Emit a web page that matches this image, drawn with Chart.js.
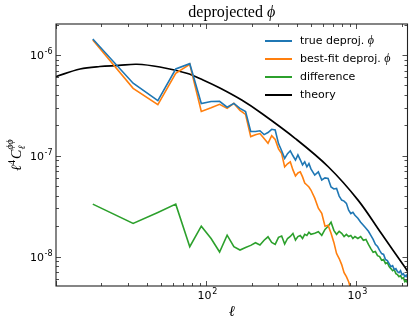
<!DOCTYPE html>
<html>
<head>
<meta charset="utf-8">
<script src="https://cdn.jsdelivr.net/npm/chart.js@4.4.0/dist/chart.umd.min.js"></script>
<style>
  html, body { margin: 0; padding: 0; background: #fff; }
  #wrap { width: 415px; height: 326px; }
</style>
</head>
<body>
<div id="wrap"><canvas id="chart" width="415" height="326"></canvas></div>
<script>
// ===== data =====

// multipole bin centres shared by the three measured spectra
const ell = [
  17.5, 32.5, 47.5, 62.5, 77.5, 92.5, 107.5, 122.5, 137.5, 152.5,
  167.5, 182.5, 197.5, 212.5, 227.5, 242.5, 257.5, 272.5, 287.5, 302.5,
  317.5, 332.5, 347.5, 362.5, 377.5, 392.5, 407.5, 422.5, 437.5, 452.5,
  467.5, 482.5, 497.5,
  527.5, 557.5, 587.5, 617.5, 647.5, 677.5, 707.5, 737.5, 767.5, 797.5,
  827.5, 857.5, 887.5, 917.5, 947.5, 977.5,
  1022.5, 1067.5, 1112.5, 1157.5, 1202.5, 1247.5, 1292.5, 1337.5, 1382.5,
  1427.5, 1472.5, 1517.5, 1562.5, 1607.5, 1652.5, 1697.5, 1742.5, 1787.5,
  1832.5, 1877.5, 1922.5, 1967.5, 2012.5, 2057.5, 2102.5, 2147.5, 2192.5
];

const trueDeproj = [
  1.44e-6, 5.24e-7, 3.52e-7, 7.26e-7, 8.20e-7, 3.30e-7, 3.45e-7, 3.47e-7, 3.03e-7, 3.31e-7,
  2.95e-7, 2.74e-7, 1.74e-7, 1.74e-7, 1.77e-7, 1.62e-7, 1.70e-7, 1.83e-7, 1.80e-7, 1.32e-7,
  1.12e-7, 9.42e-8, 1.05e-7, 1.12e-7, 1.00e-7, 9.06e-8, 1.02e-7, 9.12e-8, 8.13e-8, 8.71e-8,
  7.76e-8, 8.38e-8, 7.41e-8,
  6.43e-8, 6.92e-8, 5.75e-8, 6.03e-8, 5.96e-8, 4.90e-8, 4.68e-8, 4.73e-8, 3.98e-8, 3.63e-8,
  3.55e-8, 3.37e-8, 2.88e-8, 2.67e-8, 2.75e-8, 2.57e-8,
  2.40e-8, 2.19e-8, 2.04e-8, 1.91e-8, 1.78e-8, 1.62e-8, 1.48e-8, 1.32e-8, 1.26e-8,
  1.15e-8, 1.07e-8, 1.05e-8, 9.33e-9, 9.12e-9, 8.51e-9, 7.94e-9, 8.13e-9, 7.41e-9,
  7.59e-9, 7.08e-9, 6.92e-9, 7.24e-9, 6.61e-9, 6.76e-9, 6.31e-9, 6.53e-9, 6.17e-9
];

// falls off the bottom of the axes after ~950
const bestFit = [
  1.41e-6, 4.67e-7, 3.21e-7, 6.58e-7, 8.09e-7, 2.75e-7, 2.99e-7, 3.24e-7, 2.95e-7, 3.31e-7,
  2.82e-7, 2.57e-7, 1.55e-7, 1.62e-7, 1.66e-7, 1.48e-7, 1.33e-7, 1.58e-7, 1.45e-7, 1.17e-7,
  1.05e-7, 7.76e-8, 8.32e-8, 8.71e-8, 7.24e-8, 6.31e-8, 6.76e-8, 6.92e-8, 6.17e-8, 5.37e-8,
  5.13e-8, 4.90e-8, 4.57e-8,
  3.80e-8, 3.02e-8, 2.69e-8, 2.00e-8, 2.04e-8, 1.70e-8, 1.38e-8, 1.07e-8, 9.55e-9, 8.32e-9,
  6.92e-9, 6.31e-9, 5.62e-9, 4.79e-9, 3.98e-9
];

const difference = [
  3.31e-8, 2.13e-8, 2.74e-8, 3.31e-8, 1.25e-8, 2.00e-8, 1.51e-8, 1.11e-8, 1.63e-8, 1.25e-8,
  1.16e-8, 1.23e-8, 1.29e-8, 1.37e-8, 1.30e-8, 1.45e-8, 1.57e-8, 1.38e-8, 1.32e-8, 1.55e-8,
  1.60e-8, 1.33e-8, 1.51e-8, 1.58e-8, 1.69e-8, 1.46e-8, 1.58e-8, 1.62e-8, 1.51e-8, 1.66e-8,
  1.62e-8, 1.74e-8, 1.66e-8,
  1.70e-8, 1.76e-8, 1.62e-8, 1.86e-8, 2.00e-8, 2.19e-8, 1.82e-8, 1.66e-8, 1.78e-8, 1.70e-8,
  1.58e-8, 1.66e-8, 1.58e-8, 1.62e-8, 1.51e-8, 1.58e-8,
  1.51e-8, 1.58e-8, 1.45e-8, 1.48e-8, 1.32e-8, 1.20e-8, 1.10e-8, 1.12e-8, 1.02e-8,
  1.00e-8, 9.20e-9, 9.33e-9, 8.51e-9, 8.71e-9, 7.94e-9, 7.59e-9, 7.24e-9, 7.41e-9,
  6.76e-9, 6.61e-9, 6.31e-9, 6.46e-9, 6.03e-9, 6.17e-9, 5.62e-9, 5.75e-9, 5.50e-9
];

// smooth theory curve
const theoryEll = [9.9, 14.4, 19.5, 26, 34.4, 49, 74, 95, 123, 172, 233, 390, 649, 1025, 1467, 2095, 2200];
const theory = [6.1e-7, 7.26e-7, 7.69e-7, 7.87e-7, 8.09e-7, 7.6e-7, 6.58e-7, 5.65e-7, 4.7e-7,
  3.57e-7, 2.64e-7, 1.49e-7, 7.78e-8, 3.63e-8, 1.69e-8, 7.9e-9, 7.1e-9];

// axis limits and labelled decades
const xLim = [9.95, 2190];
const yLim = [5.1e-9, 2.03e-6];
const xTickExp = [2, 3];
const yTickExp = [-8, -7, -6];

const COLORS = { blue: '#1f77b4', orange: '#ff7f0e', green: '#2ca02c', black: '#000000' };
const SANS = '"DejaVu Sans", sans-serif';
const SERIF = '"Liberation Serif", "DejaVu Serif", serif';

const pts = (xs, ys) => ys.map((y, i) => ({ x: xs[i], y }));

// ===== helpers for matplotlib-ish decorations =====
function logTicks(min, max){
  const out = [];
  for(let e = Math.floor(Math.log10(min)); e <= Math.ceil(Math.log10(max)); e++){
    for(let m = 1; m < 10; m++){
      const v = m * Math.pow(10, e);
      if(v >= min && v <= max) out.push({ v, major: m === 1 });
    }
  }
  return out;
}

// "10" with a superscript exponent; y is baseline of the "10"
function powLabel(ctx, exp, x, y, align){
  ctx.font = '11px ' + SANS;
  const wb = ctx.measureText('10').width;
  ctx.font = '8px ' + SANS;
  const we = ctx.measureText(exp).width;
  const total = wb + 0.6 + we;
  const x0 = align === 'right' ? x - total : x - total / 2;
  ctx.textAlign = 'left';
  ctx.textBaseline = 'alphabetic';
  ctx.font = '11px ' + SANS;
  ctx.fillText('10', x0, y);
  ctx.font = '8px ' + SANS;
  ctx.fillText(exp, x0 + wb + 0.6, y - 5);
}

const legendItems = [
  { text: 'true deproj. ', sym: 'ϕ', color: COLORS.blue },
  { text: 'best-fit deproj. ', sym: 'ϕ', color: COLORS.orange },
  { text: 'difference', sym: '', color: COLORS.green },
  { text: 'theory', sym: '', color: COLORS.black }
];

const decor = {
  id: 'decor',
  afterDatasetsDraw(chart){
    const { ctx, chartArea: { left, right, top, bottom }, scales: { x, y } } = chart;
    ctx.save();

    // frame
    ctx.strokeStyle = '#222';
    ctx.lineWidth = 1.1;
    ctx.strokeRect(left, top, right - left, bottom - top);

    // inward ticks on all four sides
    ctx.lineWidth = 0.8;
    ctx.beginPath();
    logTicks(xLim[0], xLim[1]).forEach(t => {
      const px = Math.round(x.getPixelForValue(t.v)) + 0.5;
      const len = t.major ? 5 : 3;
      ctx.moveTo(px, bottom); ctx.lineTo(px, bottom - len);
      ctx.moveTo(px, top); ctx.lineTo(px, top + len);
    });
    logTicks(yLim[0], yLim[1]).forEach(t => {
      const py = Math.round(y.getPixelForValue(t.v)) + 0.5;
      const len = t.major ? 5 : 3;
      ctx.moveTo(left, py); ctx.lineTo(left + len, py);
      ctx.moveTo(right, py); ctx.lineTo(right - len, py);
    });
    ctx.stroke();

    // tick labels
    ctx.fillStyle = '#000';
    xTickExp.forEach(e => powLabel(ctx, String(e), x.getPixelForValue(Math.pow(10, e)) + 1, bottom + 13, 'center'));
    yTickExp.forEach(e => powLabel(ctx, '-' + (-e), left - 3.5, y.getPixelForValue(Math.pow(10, e)) + 4, 'right'));

    // title
    const cx = (left + right) / 2;
    ctx.font = '16px ' + SERIF;
    const tw1 = ctx.measureText('deprojected ').width;
    ctx.font = 'italic 16px ' + SERIF;
    const tw2 = ctx.measureText('ϕ').width;
    let tx = cx - (tw1 + tw2) / 2;
    ctx.textBaseline = 'alphabetic';
    ctx.textAlign = 'left';
    ctx.font = '16px ' + SERIF;
    ctx.fillText('deprojected ', tx, 17);
    ctx.font = 'italic 16px ' + SERIF;
    ctx.fillText('ϕ', tx + tw1, 17);

    // x label
    ctx.font = 'italic 15px ' + SERIF;
    ctx.textAlign = 'center';
    ctx.fillText('ℓ', cx, 316);

    // y label (rotated)
    ctx.save();
    ctx.translate(21, (top + bottom) / 2);
    ctx.rotate(-Math.PI / 2);
    const big = 'italic 14px ' + SERIF, small = 'italic 10px ' + SERIF, num = '10px ' + SERIF;
    ctx.font = big; const wl = ctx.measureText('ℓ').width;
    ctx.font = num; const w4 = ctx.measureText('4').width;
    ctx.font = big; const wc = ctx.measureText('C').width;
    ctx.font = small; const ws = Math.max(ctx.measureText('ϕϕ').width, ctx.measureText('ℓ').width);
    let lx = -(wl + w4 + 1 + wc + ws) / 2;
    ctx.textAlign = 'left';
    ctx.font = big; ctx.fillText('ℓ', lx, 0); lx += wl;
    ctx.font = num; ctx.fillText('4', lx, -6); lx += w4 + 1;
    ctx.font = big; ctx.fillText('C', lx, 0); lx += wc;
    ctx.font = small; ctx.fillText('ℓ', lx, 4); ctx.fillText('ϕϕ', lx, -8);
    ctx.restore();

    // legend (upper right, no frame)
    ctx.textAlign = 'left';
    ctx.textBaseline = 'middle';
    legendItems.forEach((it, i) => {
      const ly = 41 + i * 18;
      ctx.strokeStyle = it.color;
      ctx.lineWidth = 2;
      ctx.beginPath(); ctx.moveTo(265, ly); ctx.lineTo(292, ly); ctx.stroke();
      ctx.fillStyle = '#000';
      ctx.font = '11px ' + SANS;
      ctx.fillText(it.text, 300, ly);
      if(it.sym){
        const w = ctx.measureText(it.text).width;
        ctx.font = 'italic 12px ' + SERIF;
        ctx.fillText(it.sym, 300 + w, ly);
      }
    });

    ctx.restore();
  }
};

const lineSet = (label, data, color, width) => ({
  label, data, borderColor: color, backgroundColor: color,
  borderWidth: width, showLine: true, pointRadius: 0, fill: false, tension: 0
});

new Chart(document.getElementById('chart').getContext('2d'), {
  type: 'scatter',
  data: {
    datasets: [
      lineSet('true deproj. ϕ', pts(ell, trueDeproj), COLORS.blue, 1.6),
      lineSet('best-fit deproj. ϕ', pts(ell, bestFit), COLORS.orange, 1.6),
      lineSet('difference', pts(ell, difference), COLORS.green, 1.6),
      Object.assign(lineSet('theory', pts(theoryEll, theory), COLORS.black, 1.7), { tension: 0.35 })
    ]
  },
  options: {
    responsive: false,
    devicePixelRatio: 1,
    animation: false,
    layout: { padding: { left: 56, right: 7.5, top: 24, bottom: 40 } },
    scales: {
      x: { type: 'logarithmic', min: xLim[0], max: xLim[1], display: false },
      y: { type: 'logarithmic', min: yLim[0], max: yLim[1], display: false }
    },
    plugins: { legend: { display: false }, title: { display: false }, tooltip: { enabled: false } }
  },
  plugins: [decor]
});
</script>
</body>
</html>
